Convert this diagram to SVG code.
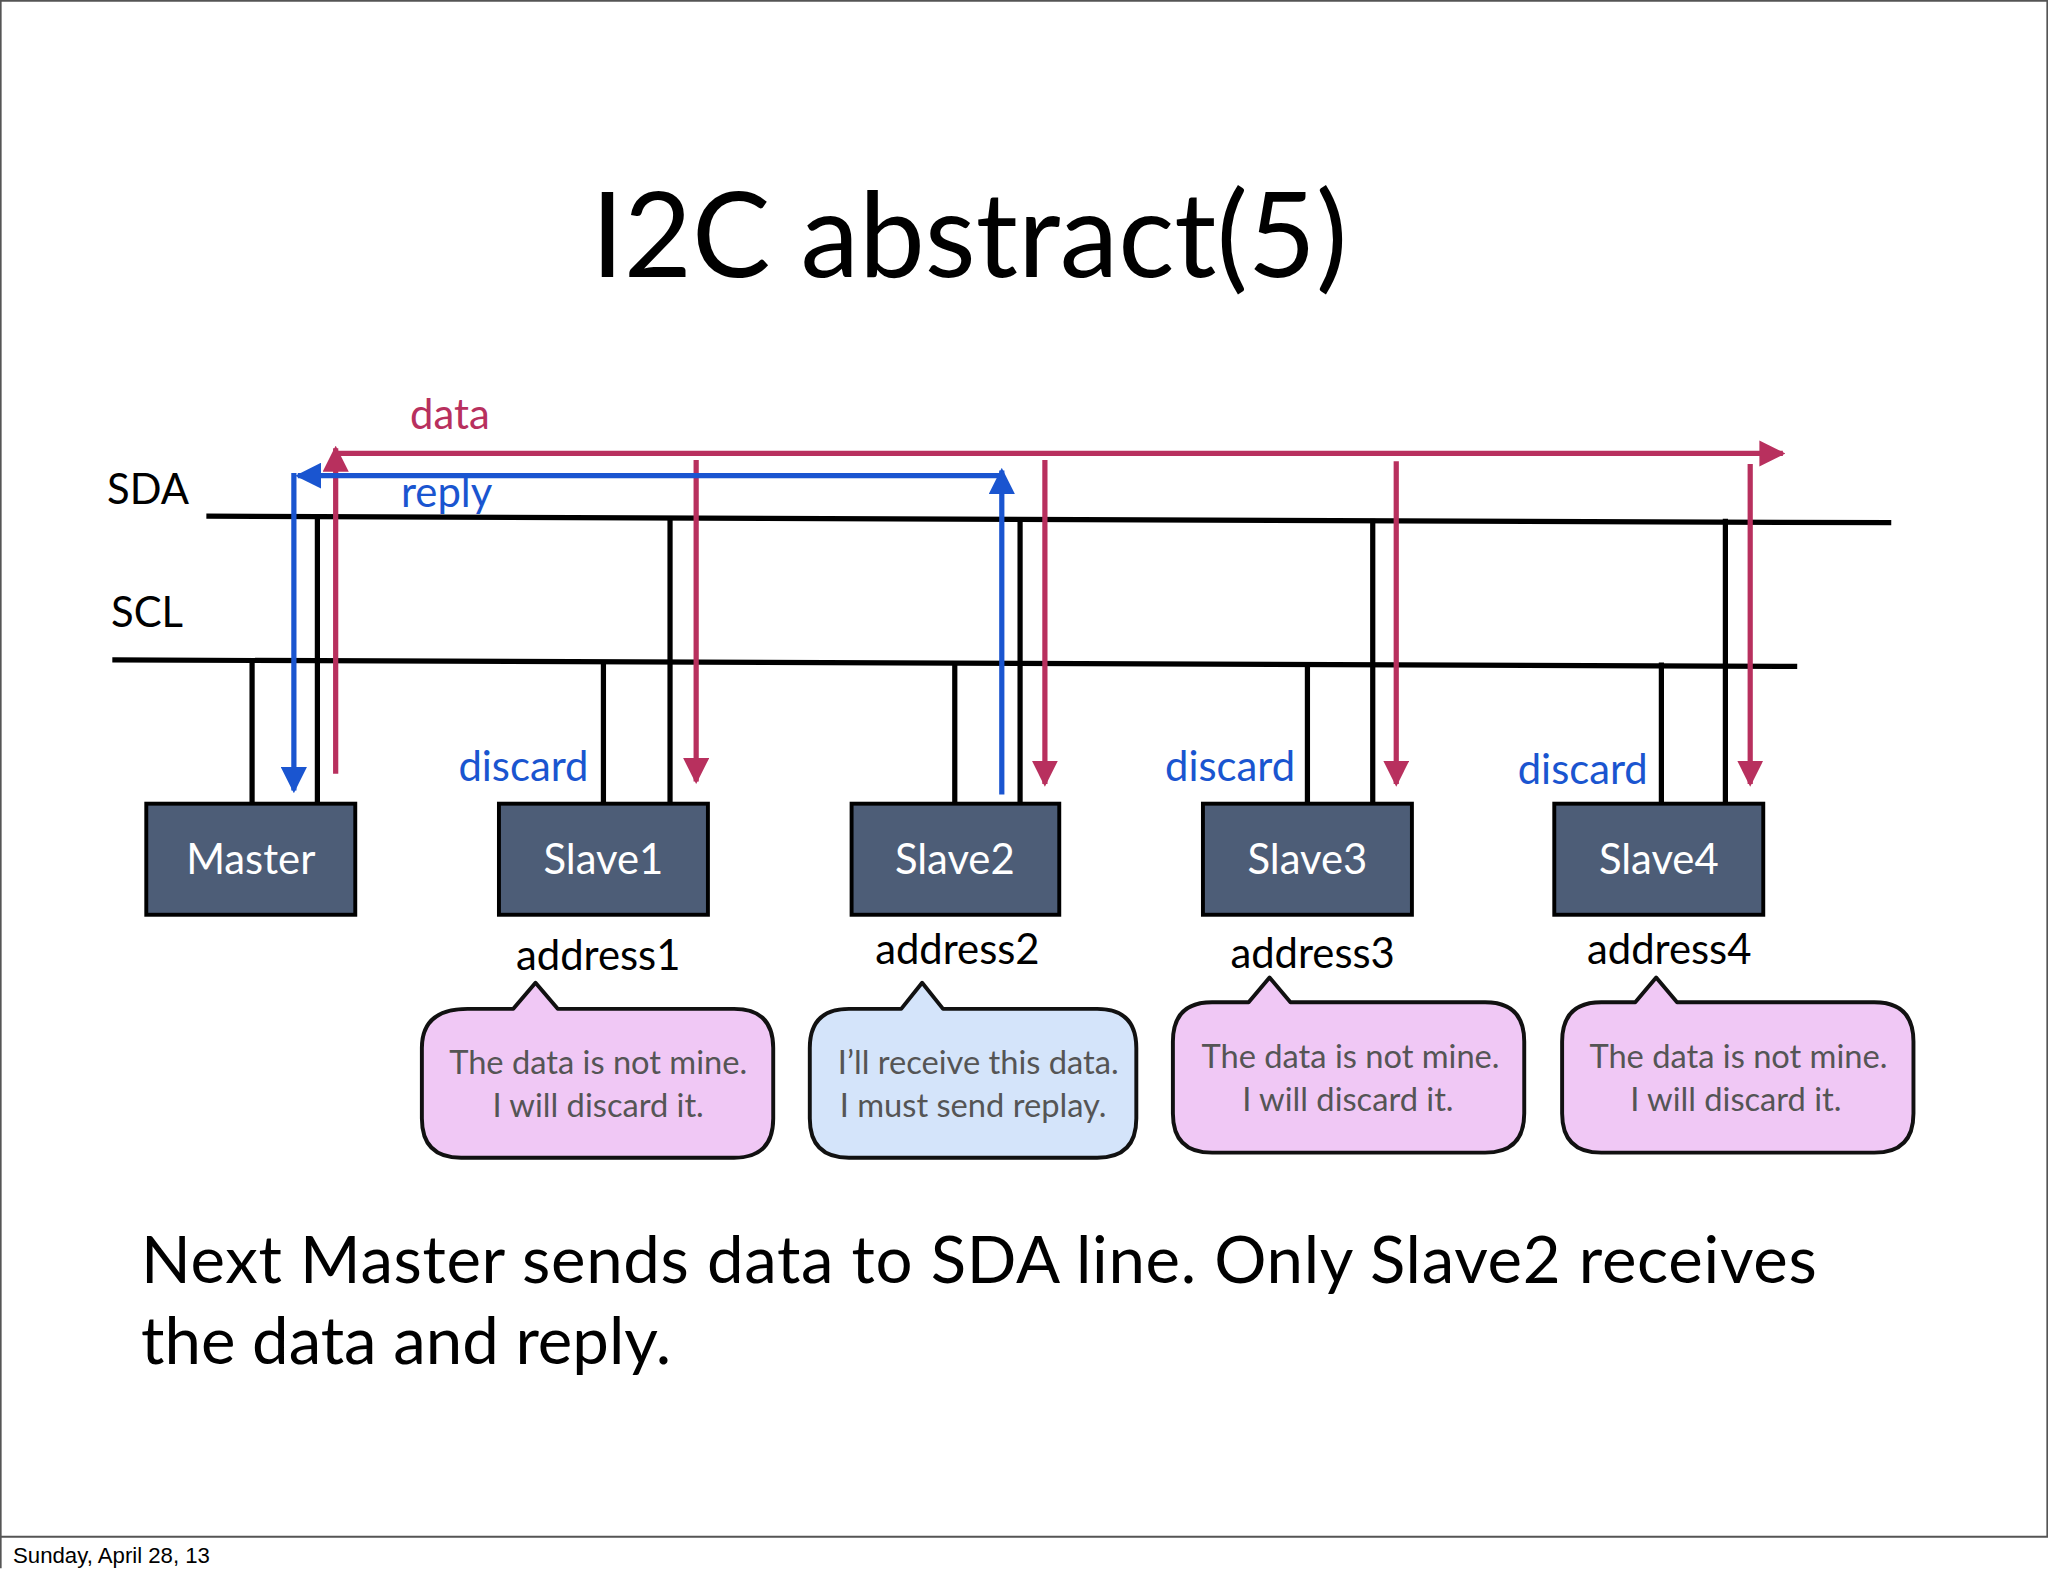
<svg xmlns="http://www.w3.org/2000/svg" width="2048" height="1576" viewBox="0 0 2048 1576">
<defs>
<marker id="ar" viewBox="0 0 10 10" refX="9" refY="5" markerWidth="5" markerHeight="5" orient="auto-start-reverse"><path d="M0,0 L10,5 L0,10 z" fill="#b8305e"/></marker>
<marker id="ab" viewBox="0 0 10 10" refX="9" refY="5" markerWidth="5" markerHeight="5" orient="auto-start-reverse"><path d="M0,0 L10,5 L0,10 z" fill="#1a55d0"/></marker>
</defs>
<style>
text{font-family:Lato,"Open Sans","Liberation Sans",sans-serif}
.bus{stroke:#000;stroke-width:4;fill:none}
.nd{fill:#4d5d77;stroke:#000;stroke-width:3}
.nt{fill:#fff;font-size:32px;text-anchor:middle}
.red{stroke:#b8305e;stroke-width:4;fill:none}
.blu{stroke:#1a55d0;stroke-width:4;fill:none}
.co{stroke:#111;stroke-width:3;stroke-linejoin:round}
.ct{fill:#555;font-size:25px;text-anchor:middle}
.ad{font-size:32px;text-anchor:middle;fill:#000}
.bl{fill:#1a55d0;font-size:32px}
</style>
<rect width="2048" height="1576" fill="#fff"/>
<g transform="scale(1.30612,1.3068)">
<path d="M0.5,1200 V0.5 H1567.5 V1176 M0,1176 H1568" stroke="#555" stroke-width="1.5" fill="none"/>
<text x="10" y="1196" style="font-family:'Liberation Sans',sans-serif;font-size:17px">Sunday, April 28, 13</text>
<text x="742" y="212" style="font-size:90px" text-anchor="middle">I2C abstract(5)</text>
<text x="82" y="386" style="font-size:32px">SDA</text>
<text x="85" y="480" style="font-size:32px">SCL</text>
<g id="connectors">
<path class="bus" d="M158,395 L1448,400 M86,505 L1376,510"/>
<path class="bus" d="M193,507V615 M243,397V615 M462,507V615 M513,397V615 M731,507V615 M781,397V615 M1001,507V615 M1051,397V615 M1272,507V615 M1321,397V615"/>
<path class="red" d="M257,592 V343" marker-end="url(#ar)"/>
<path class="red" d="M257,347 H1365" marker-end="url(#ar)"/>
<path class="red" d="M533,352V598" marker-end="url(#ar)"/>
<path class="red" d="M800,352V600" marker-end="url(#ar)"/>
<path class="red" d="M1069,353V600" marker-end="url(#ar)"/>
<path class="red" d="M1340,355V600" marker-end="url(#ar)"/>
<path class="blu" d="M767,608V360" marker-end="url(#ab)"/>
<path class="blu" d="M767,364H228" marker-end="url(#ab)"/>
<path class="blu" d="M225,362V605" marker-end="url(#ab)"/>
</g>
<text x="314" y="328" style="font-size:32px;fill:#b8305e">data</text>
<text x="307" y="388" class="bl">reply</text>
<text x="351" y="598" class="bl">discard</text>
<text x="892" y="598" class="bl">discard</text>
<text x="1162" y="600" class="bl">discard</text>
<g id="master"><rect class="nd" x="112" y="615" width="160" height="85"/><text class="nt" x="192" y="669">Master</text></g>
<g id="slave1"><rect class="nd" x="382" y="615" width="160" height="85"/><text class="nt" x="462" y="669">Slave1</text><text class="ad" x="458" y="742">address1</text></g>
<g id="slave2"><rect class="nd" x="652" y="615" width="159" height="85"/><text class="nt" x="731" y="669">Slave2</text><text class="ad" x="733" y="738">address2</text></g>
<g id="slave3"><rect class="nd" x="921" y="615" width="160" height="85"/><text class="nt" x="1001" y="669">Slave3</text><text class="ad" x="1005" y="741">address3</text></g>
<g id="slave4"><rect class="nd" x="1190" y="615" width="160" height="85"/><text class="nt" x="1270" y="669">Slave4</text><text class="ad" x="1278" y="738">address4</text></g>
<g id="callout1"><path class="co" fill="#f0c8f5" d="M358,772 H393 L410,752 L427,772 H562 Q592,772 592,802 V856 Q592,886 562,886 H353 Q323,886 323,856 V802 Q323,772 358,772 Z"/><text class="ct" x="458" y="822">The data is not mine.</text><text class="ct" x="458" y="855">I will discard it.</text></g>
<g id="callout2"><path class="co" fill="#d4e4fa" d="M650,772 H690 L706,752 L722,772 H840 Q870,772 870,802 V856 Q870,886 840,886 H650 Q620,886 620,856 V802 Q620,772 650,772 Z"/><text class="ct" x="749" y="822">I’ll receive this data.</text><text class="ct" x="745" y="855">I must send replay.</text></g>
<g id="callout3"><path class="co" fill="#f0c8f5" d="M928,767 H956 L972,748 L988,767 H1137 Q1167,767 1167,797 V852 Q1167,882 1137,882 H928 Q898,882 898,852 V797 Q898,767 928,767 Z"/><text class="ct" x="1034" y="817">The data is not mine.</text><text class="ct" x="1032" y="850">I will discard it.</text></g>
<g id="callout4"><path class="co" fill="#f0c8f5" d="M1226,767 H1252 L1268,748 L1284,767 H1435 Q1465,767 1465,797 V852 Q1465,882 1435,882 H1226 Q1196,882 1196,852 V797 Q1196,767 1226,767 Z"/><text class="ct" x="1331" y="817">The data is not mine.</text><text class="ct" x="1329" y="850">I will discard it.</text></g>
<text x="108" y="982" style="font-size:50px" textLength="1283">Next Master sends data to SDA line. Only Slave2 receives</text>
<text x="108" y="1044" style="font-size:50px">the data and reply.</text>
</g>
</svg>
